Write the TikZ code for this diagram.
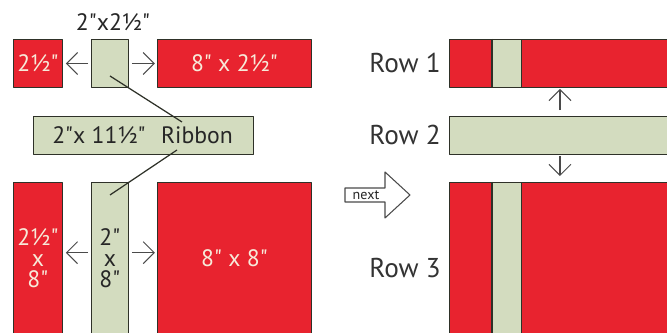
\documentclass[tikz,border=0pt]{standalone}
\usepackage{fontspec}
\setmainfont{PT Sans}[Ligatures=TeXOff]
\usetikzlibrary{arrows.meta}
\definecolor{quiltred}{HTML}{E8232F}
\definecolor{sage}{HTML}{D3DCBF}
\definecolor{edge}{HTML}{2E3128}
\definecolor{cream}{HTML}{F7EAD9}
\definecolor{arrowgray}{HTML}{4A4A4A}
\begin{document}
\begin{tikzpicture}[x=0.02cm, y=-0.02cm, line join=round, >={Straight Barb[length=2.2mm,width=4.4mm]},
		block/.style={draw=edge, line width=0.5pt, anchor=north west, inner sep=0pt, align=center, font=\fontsize{13.5}{12}\selectfont},
		redblock/.style={block, fill=quiltred, text=cream},
		sageblock/.style={block, fill=sage, text=black!85},
		lbl/.style={font=\fontsize{13.5}{12}\selectfont, text=black!85},
		rowlbl/.style={font=\fontsize{15.5}{18}\selectfont, text=black!80},
		pointer/.style={->, draw=arrowgray, line width=0.6pt},
		stitch/.style={draw=edge, line width=1.3pt}]
	\useasboundingbox[fill=white] (0,0) rectangle (667,333);
	\node[redblock, minimum width=0.98cm, minimum height=0.96cm] (side1) at (13,39) {2½"};
	\node[sageblock, minimum width=0.74cm, minimum height=0.96cm] (sash1) at (91,39) {};
	\node[redblock, minimum width=3.08cm, minimum height=0.96cm] (main1) at (157,39) {8" x 2½"};
	\node[lbl] (sashlbl) at (113,22) {2"x2½"};
	\draw[pointer, shorten <=1.7pt, shorten >=1.7pt] (sash1.west) -- (side1.east);
	\draw[pointer, shorten <=1.7pt, shorten >=1.2pt] (sash1.east) -- (main1.west);
	\node[sageblock, minimum width=4.4cm, minimum height=0.76cm] (ribbon) at (33,116) {};
	\node[lbl] (ribsize) at (99,135) {2"x 11½"};
	\node[lbl] (ribname) at (197,135) {Ribbon};
	\node[redblock, minimum width=0.98cm, minimum height=3.02cm] (side3) at (13,182) {2½"\\x\\8"};
	\node[sageblock, minimum width=0.74cm, minimum height=3.02cm] (sash3) at (91,182) {2"\\x\\8"};
	\node[redblock, minimum width=3.08cm, minimum height=3.02cm] (main3) at (157,182) {8" x 8"};
	\draw[pointer, shorten <=1.7pt, shorten >=1.7pt] ([yshift=3pt]sash3.west) -- ([yshift=3pt]side3.east);
	\draw[pointer, shorten <=1.7pt, shorten >=1.2pt] ([yshift=3pt]sash3.east) -- ([yshift=3pt]main3.west);
	\coordinate (tie1) at (110,76);
	\coordinate (tie2) at (182,122);
	\coordinate (tie3) at (177,150);
	\coordinate (tie4) at (110,195);
	\draw[draw=edge, line width=0.7pt] (tie1) -- (tie2);
	\draw[draw=edge, line width=0.7pt] (tie3) -- (tie4);
	\draw[draw=arrowgray, fill=white, line width=0.6pt] (345,188) -- (385,188) -- (385,172) -- (410,195) -- (385,218) -- (385,202) -- (345,202) -- cycle;
	\node[font=\fontsize{8}{9}\selectfont, text=black!85] (next) at (366,195) {next};
	\node[redblock, minimum width=4.5cm, minimum height=0.96cm] (row1) at (449,39) {};
	\node[sageblock, minimum width=0.58cm, minimum height=0.96cm] (strip1) at (492,39) {};
	\draw[stitch] (strip1.north west) -- (strip1.south west);
	\node[sageblock, minimum width=4.5cm, minimum height=0.76cm] (row2) at (449,116) {};
	\node[redblock, minimum width=4.5cm, minimum height=3.1cm] (row3) at (449,182) {};
	\node[sageblock, minimum width=0.58cm, minimum height=3.1cm] (strip3) at (492,182) {};
	\draw[stitch] (strip3.north west) -- (strip3.south west);
	\node[rowlbl] (lbl1) at (405,63) {Row 1};
	\node[rowlbl] (lbl2) at (405,135) {Row 2};
	\node[rowlbl] (lbl3) at (405,268) {Row 3};
	\draw[pointer, shorten <=3.4pt, shorten >=0.6pt] ([xshift=2.22cm]row2.north west) -- ([xshift=2.22cm]row1.south west);
	\draw[pointer, shorten <=0.6pt, shorten >=3.4pt] ([xshift=2.22cm]row2.south west) -- ([xshift=2.22cm]row3.north west);
\end{tikzpicture}
\end{document}
